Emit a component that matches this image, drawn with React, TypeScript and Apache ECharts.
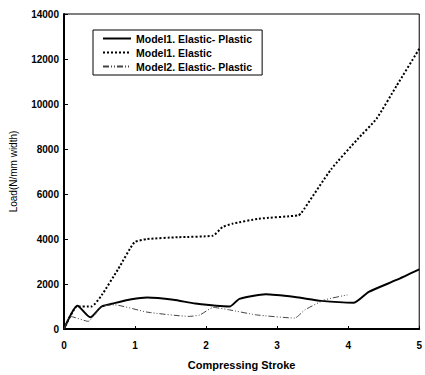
import React, { useEffect, useRef } from "react";
import * as echarts from "echarts";

const seriesNames = ["Model1. Elastic- Plastic", "Model1. Elastic", "Model2. Elastic- Plastic"];

const ep1X = [0, 0.19, 0.37, 0.53, 0.71, 0.95, 1.17, 1.54, 1.85, 2.33, 2.47, 2.84, 3.25, 3.62, 4.08, 4.29, 4.68, 5.0];
const ep1Y = [0, 1030, 520, 1000, 1150, 1320, 1400, 1300, 1130, 1000, 1340, 1540, 1420, 1250, 1170, 1650, 2180, 2650];

const e1X = [0, 0.18, 0.39, 0.53, 0.76, 0.99, 1.17, 1.6, 2.1, 2.23, 2.37, 2.74, 3.3, 3.34, 3.76, 4.13, 4.4, 4.68, 5.0];
const e1Y = [0, 1000, 1000, 1500, 2650, 3850, 4000, 4080, 4150, 4530, 4680, 4900, 5050, 5150, 7100, 8430, 9350, 10800, 12450];

const ep2X = [0, 0.09, 0.34, 0.53, 0.71, 1.17, 1.76, 1.91, 2.1, 2.33, 2.7, 3.25, 3.39, 3.67, 3.99];
const ep2Y = [0, 560, 340, 1000, 1075, 750, 560, 620, 960, 850, 630, 485, 850, 1295, 1515];

const xTicks = { min: 0, max: 5, interval: 1 };
const yTicks = { min: 0, max: 14000, interval: 2000 };

const pairs = (xs: number[], ys: number[]) => xs.map((x, i) => [x, ys[i]]);

export default function App() {
  const ref = useRef<HTMLDivElement>(null);
  useEffect(() => {
    if (!ref.current) return;
    const chart = echarts.init(ref.current, null, { renderer: "svg" });
    const font = "'Liberation Sans', Arial, sans-serif";
    chart.setOption({
      animation: false,
      backgroundColor: "#ffffff",
      textStyle: { fontFamily: font },
      grid: {
        left: 62,
        right: 2,
        top: 14,
        bottom: 44,
        show: true,
        borderColor: "#000",
        borderWidth: 1,
      },
      legend: {
        orient: "vertical",
        left: 93,
        top: 30,
        padding: [3, 10, 3, 9],
        itemGap: 3,
        itemWidth: 28,
        itemHeight: 10,
        borderColor: "#000",
        borderWidth: 1,
        data: seriesNames,
        itemStyle: { opacity: 0 },
        textStyle: { fontSize: 10.5, fontWeight: "bold", color: "#000", fontFamily: font },
      },
      xAxis: {
        type: "value",
        ...xTicks,
        name: "Compressing Stroke",
        nameLocation: "middle",
        nameGap: 30,
        nameTextStyle: { fontSize: 11, fontWeight: "bold", color: "#000", fontFamily: font },
        axisLine: { lineStyle: { color: "#000", width: 2 } },
        axisTick: { inside: true, length: 3, lineStyle: { color: "#000" } },
        axisLabel: { fontSize: 10, fontWeight: "bold", color: "#000", margin: 11, fontFamily: font },
        splitLine: { show: false },
      },
      yAxis: {
        type: "value",
        ...yTicks,
        name: "Load(N/mm width)",
        nameLocation: "middle",
        nameGap: 46,
        nameTextStyle: { fontSize: 10, color: "#000", fontFamily: font },
        axisLine: { show: true, lineStyle: { color: "#000", width: 2 } },
        axisTick: { show: true, inside: true, length: 4, lineStyle: { color: "#000" } },
        axisLabel: {
          fontSize: 10,
          fontWeight: "bold",
          color: "#000",
          margin: 5,
          fontFamily: font,
          formatter: (v: number) => String(v),
        },
        splitLine: { show: false },
      },
      series: [
        {
          name: seriesNames[0],
          type: "line",
          data: pairs(ep1X, ep1Y),
          symbol: "none",
          smooth: 0.2,
          lineStyle: { color: "#000", width: 2 },
          itemStyle: { color: "#000" },
        },
        {
          name: seriesNames[1],
          type: "line",
          data: pairs(e1X, e1Y),
          symbol: "none",
          smooth: 0.15,
          lineStyle: { color: "#000", width: 2, type: [2, 2] },
          itemStyle: { color: "#000" },
        },
        {
          name: seriesNames[2],
          type: "line",
          data: pairs(ep2X, ep2Y),
          symbol: "none",
          smooth: 0.15,
          lineStyle: { color: "#444", width: 1, type: [6, 2, 1, 2, 1, 2] },
          itemStyle: { color: "#444" },
        },
      ],
    });
    return () => chart.dispose();
  }, []);
  return <div ref={ref} style={{ width: 425, height: 375, position: "absolute", left: 0, top: 0 }} />;
}
